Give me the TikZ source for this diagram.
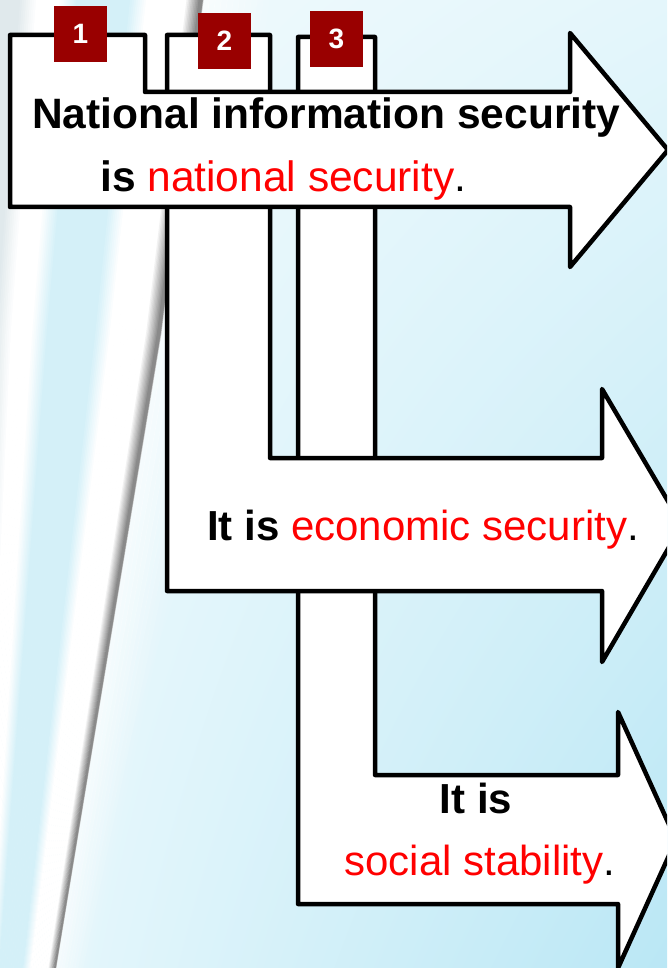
\documentclass[tikz,border=0pt]{standalone}
\usepackage{fontspec}
\setmainfont{Liberation Sans}
\usetikzlibrary{shadings}
\definecolor{numred}{HTML}{990000}
\definecolor{txtred}{HTML}{FF0000}
\definecolor{bgTL}{HTML}{F2FBFD}
\definecolor{bgTR}{HTML}{E4F6FB}
\definecolor{bgBL}{HTML}{E9F8FC}
\definecolor{bgBR}{HTML}{BAE7F5}
\definecolor{curlBlue}{HTML}{D4F0F8}
\definecolor{curlGray}{HTML}{8A8A8A}
\definecolor{curlEdge}{HTML}{E0E9EC}
\tikzset{
  arrowshape/.style={draw=black, fill=white, line width=4.5pt, line join=round},
  numbox/.style={fill=numred, text=white, font=\fontsize{28}{28}\selectfont\bfseries,
    minimum width=53pt, minimum height=56pt, inner sep=0pt},
  bigtext/.style={inner sep=0pt, font=\fontsize{42.5}{42.5}\selectfont},
  midtext/.style={inner sep=0pt, font=\fontsize{42}{42}\selectfont},
}
\begin{document}
\begin{tikzpicture}[x=1pt,y=-1pt]
\useasboundingbox (0,0) rectangle (667,968);
\clip (0,0) rectangle (667,968);
% background
\fill[upper left=bgTL, upper right=bgTR, lower left=bgBL, lower right=bgBR] (0,0) rectangle (667,968);
% page curl strips (left of the slanted edge)
\foreach \ua/\ub/\ca/\cb in {-300/-185/curlEdge/curlEdge, -185/-165/curlEdge/white, -165/-145/white/white,
  -145/-125/white/curlBlue, -125/-75/curlBlue/curlBlue, -75/-55/curlBlue/white, -55/-18/white/white,
  -18/-3/white/curlGray, -3/0/curlGray/curlGray}{
  \foreach \k in {0,...,9}{
    \pgfmathsetmacro\uu{(\ua)+((\ub)-(\ua))*\k/10}
    \pgfmathsetmacro\uv{(\ua)+((\ub)-(\ua))*(\k+1)/10+0.6}
    \pgfmathtruncatemacro\pp{\k*100/9}
    \fill[\cb!\pp!\ca] ({203+\uu},0) -- ({203+\uv},0) -- ({161+0.9*\uv},333) -- ({56+0.45*\uv},968)
      -- ({56+0.45*\uu},968) -- ({161+0.9*\uu},333) -- cycle;
  }
}
% whitish glow right of the edge
\foreach \k in {0,...,11}{
  \pgfmathsetmacro\uu{\k*6}
  \pgfmathsetmacro\uv{\k*6+6.5}
  \pgfmathsetmacro\op{0.6*(1-\k/12)}
  \fill[white, opacity=\op] ({203+\uu},0) -- ({203+\uv},0) -- ({161+0.9*\uv},333) -- ({56+0.45*\uv},968)
      -- ({56+0.45*\uu},968) -- ({161+0.9*\uu},333) -- cycle;
}
% arrow 3
\draw[arrowshape] (298,37) -- (375,37) -- (375,775) -- (618,775) -- (618,712) -- (676,840)
  -- (618,968) -- (618,904) -- (298,904) -- cycle;
% arrow 2
\draw[arrowshape] (167,35) -- (270,35) -- (270,458) -- (602,458) -- (602,389) -- (682,525)
  -- (602,662) -- (602,591) -- (167,591) -- cycle;
% arrow 1
\draw[arrowshape] (10,35) -- (145,35) -- (145,92) -- (570,92) -- (570,33) -- (668,150)
  -- (570,267) -- (570,207) -- (10,207) -- cycle;
% number boxes
\node[numbox] (n1) at (80.5,34) {1};
\node[numbox] (n2) at (224.5,41) {2};
\node[numbox] (n3) at (336.5,39) {3};
% texts
\node[bigtext, anchor=base west] (t1a) at (32,129) {\bfseries National information security};
\node[bigtext, anchor=base west] (t1b) at (100,192) {\bfseries is \mdseries\textcolor{txtred}{national security}.};
\node[midtext, anchor=base west] (t2) at (207,540) {\bfseries It is \mdseries\textcolor{txtred}{economic security}.};
\node[midtext, anchor=base] (t3a) at (476,813) {\bfseries It is};
\node[midtext, anchor=base] (t3b) at (480,875) {\textcolor{txtred}{social stability}.};
\end{tikzpicture}
\end{document}
